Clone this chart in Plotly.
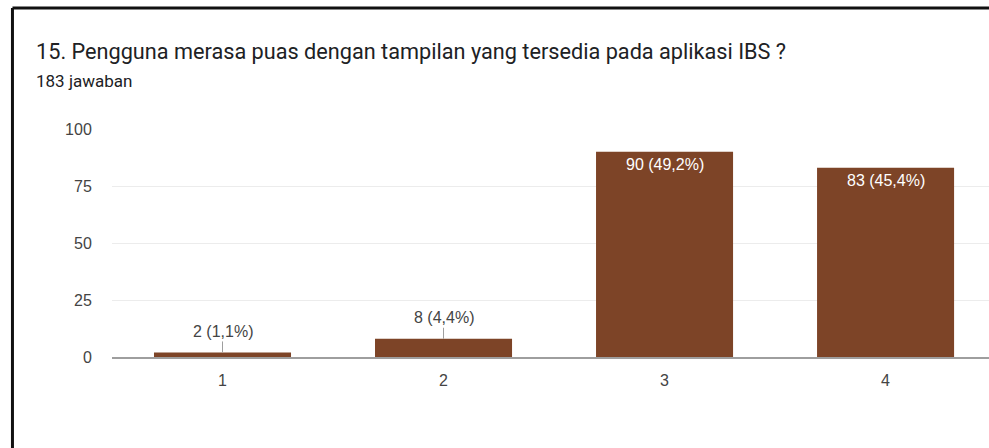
import plotly.graph_objects as go

# Survey responses for question 15
categories = ["1", "2", "3", "4"]
counts = [2, 8, 90, 83]
percents = ["1,1%", "4,4%", "49,2%", "45,4%"]

title_text = "15. Pengguna merasa puas dengan tampilan yang tersedia pada aplikasi IBS ?"
subtitle_text = "183 jawaban"
y_ticks = [0, 25, 50, 75, 100]

BAR_COLOR = "#7d4427"
LABEL_FONT = "Liberation Sans, Arial, sans-serif"

fig = go.Figure()
fig.add_trace(go.Bar(
    x=[1, 2, 3, 4],
    y=counts,
    marker=dict(color=BAR_COLOR, line=dict(width=0)),
    width=0.62,
    hoverinfo="skip",
))

# Value labels: small bars get a label above with a leader line,
# tall bars get a white label inside the top of the bar.
for i, (c, p) in enumerate(zip(counts, percents)):
    label = f"{c} ({p})"
    if c < 20:
        fig.add_annotation(
            x=i + 1, y=c, text=label, showarrow=True,
            arrowhead=0, arrowwidth=1, arrowcolor="#9e9e9e",
            ax=0, ay=-21, standoff=0,
            font=dict(family=LABEL_FONT, size=16, color="#444444"),
        )
    else:
        fig.add_annotation(
            x=i + 1, y=c, text=label, showarrow=False,
            yanchor="top", yshift=-2,
            font=dict(family=LABEL_FONT, size=16, color="#ffffff"),
        )

# Frame lines on the left and top edges of the card
fig.add_shape(type="line", xref="paper", yref="paper",
              x0=-0.1135, x1=-0.1135, y0=1.531, y1=-0.40,
              line=dict(color="#111111", width=3))
fig.add_shape(type="line", xref="paper", yref="paper",
              x0=-0.1135, x1=1.01, y0=1.531, y1=1.531,
              line=dict(color="#111111", width=3))

fig.add_annotation(
    xref="paper", yref="paper", x=-0.0885, y=1.339,
    xanchor="left", yanchor="middle", showarrow=False,
    text=title_text,
    font=dict(family="Roboto, sans-serif", size=21.7, color="#202124"),
)
fig.add_annotation(
    xref="paper", yref="paper", x=-0.0885, y=1.21,
    xanchor="left", yanchor="middle", showarrow=False,
    text=subtitle_text,
    font=dict(family="Roboto, sans-serif", size=17, color="#202124"),
)

fig.update_layout(
    width=989, height=448,
    margin=dict(l=112, r=0, t=129, b=91),
    paper_bgcolor="#ffffff",
    plot_bgcolor="#ffffff",
    showlegend=False,
    xaxis=dict(
        range=[0.5, 4.468],
        tickmode="array",
        tickvals=[1, 2, 3, 4],
        ticktext=categories,
        showgrid=False,
        zeroline=False,
        showline=True,
        linecolor="#9e9e9e",
        linewidth=2,
        ticks="outside",
        ticklen=8,
        tickcolor="rgba(0,0,0,0)",
        tickfont=dict(family=LABEL_FONT, size=16, color="#444444"),
        fixedrange=True,
    ),
    yaxis=dict(
        range=[0, 100],
        tickmode="array",
        tickvals=y_ticks,
        showgrid=True,
        gridcolor="#ececec",
        gridwidth=1,
        zeroline=False,
        showline=False,
        ticks="outside",
        ticklen=16,
        tickcolor="rgba(0,0,0,0)",
        tickfont=dict(family=LABEL_FONT, size=16, color="#444444"),
        fixedrange=True,
    ),
)

fig.write_html("out.html", config={"displayModeBar": False})
